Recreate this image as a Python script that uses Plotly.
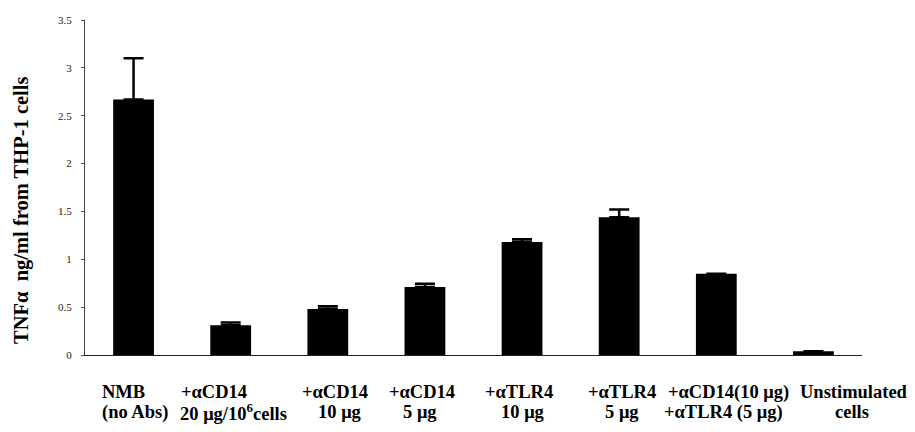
import plotly.graph_objects as go

# TNF-alpha released by THP-1 cells under each antibody treatment
categories = [
    "NMB (no Abs)",
    "+αCD14 20 μg/10^6 cells",
    "+αCD14 10 μg",
    "+αCD14 5 μg",
    "+αTLR4 10 μg",
    "+αTLR4 5 μg",
    "+αCD14(10 μg) +αTLR4 (5 μg)",
    "Unstimulated cells",
]
tnf_ng_ml = [2.67, 0.31, 0.48, 0.71, 1.18, 1.44, 0.85, 0.04]
tnf_err = [0.43, 0.03, 0.03, 0.035, 0.03, 0.08, 0.0, 0.0]

# two-line category labels drawn under the axis
label_line1 = ["NMB", "+αCD14", "+αCD14", "+αCD14", "+αTLR4", "+αTLR4",
               "+αCD14(10 μg)", "Unstimulated"]
label_line2 = ["(no Abs)", "20 μg/10<sup>6</sup>cells", "10 μg", "5 μg", "10 μg", "5 μg",
               "+αTLR4 (5 μg)", "cells"]

y_ticks = [0, 0.5, 1, 1.5, 2, 2.5, 3, 3.5]
y_ticktext = ["0", "0.5", "1", "1.5", "2", "2.5", "3", "3.5"]

# horizontal nudges (px) of each label line from its bar centre
shift_line1 = [-10, -17, 7, -3, -3, 3, 12, 41]
shift_line2 = [1, 3, 12, -5, 1, 3, 7, 39]

SERIF = "Liberation Serif"

fig = go.Figure()
fig.add_trace(go.Bar(
    x=categories,
    y=tnf_ng_ml,
    marker=dict(color="black", line=dict(width=0)),
    error_y=dict(type="data", symmetric=False, array=tnf_err,
                 arrayminus=[0] * len(tnf_err), color="black",
                 thickness=2.5, width=10),
    width=0.42,
))

annotations = []
for i, cat in enumerate(categories):
    for line, ypx, dx in ((label_line1[i], 392, shift_line1[i]),
                          (label_line2[i], 412, shift_line2[i])):
        annotations.append(dict(
            x=cat, xref="x", y=(355 - ypx) / 335, yref="paper",
            text="<b>" + line + "</b>", showarrow=False,
            xanchor="center", yanchor="middle", xshift=dx,
            font=dict(family=SERIF, size=18.5, color="black"),
        ))

annotations.append(dict(
    x=(21 - 85) / 777, xref="paper", y=(355 - 210) / 335, yref="paper",
    text="<b>TNFα\u00a0 ng/ml from THP-1 cells</b>", textangle=-90,
    showarrow=False, xanchor="center", yanchor="middle",
    font=dict(family=SERIF, size=20.5, color="black"),
))

fig.update_layout(
    width=915, height=432,
    margin=dict(l=85, r=53, t=20, b=77),
    paper_bgcolor="white", plot_bgcolor="white",
    showlegend=False,
    bargap=0.58,
    annotations=annotations,
    xaxis=dict(type="category", range=[-0.5, len(categories) - 0.5],
               showticklabels=False, ticks="", showgrid=False,
               showline=True, linecolor="#222", linewidth=1,
               zeroline=False),
    yaxis=dict(range=[0, 3.5], tickvals=y_ticks, ticktext=y_ticktext,
               ticks="outside", ticklen=3, tickcolor="#555",
               ticklabelstandoff=7,
               tickfont=dict(family=SERIF, size=11, color="#222"),
               showgrid=False, zeroline=False,
               showline=True, linecolor="#444", linewidth=1),
)

fig.write_html("out.html")
